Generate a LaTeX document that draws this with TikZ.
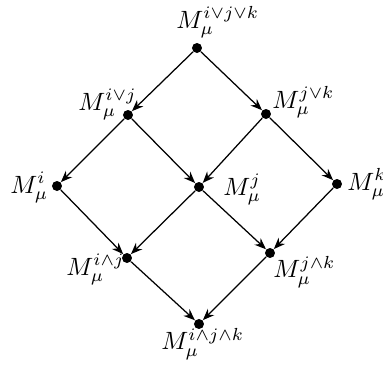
\documentclass[tikz,border=0pt]{standalone}
\usetikzlibrary{arrows.meta}
\begin{document}
\begin{tikzpicture}[x=0.4pt,y=-0.4pt,
  dot/.style={circle,fill=black,inner sep=0pt,minimum size=4pt},
  lab/.style={inner sep=0pt,anchor=base west},
  arr/.style={-{Stealth[length=4.6pt,width=3.6pt,inset=1.5pt]},line width=0.5pt}]
\useasboundingbox (0,0) rectangle (383,368);
\node[dot] (t) at (197,48) {};
\node[dot] (ij) at (128,115) {};
\node[dot] (jk) at (266,114) {};
\node[dot] (i) at (57,186) {};
\node[dot] (j) at (199,187) {};
\node[dot] (k) at (337,184) {};
\node[dot] (aij) at (127,258) {};
\node[dot] (ajk) at (270,253) {};
\node[dot] (b) at (199,324) {};
\node[lab] (lt) at (176,28) {$M_\mu^{i\vee j\vee k}$};
\node[lab] (lij) at (78,110) {$M_\mu^{i\vee j}$};
\node[lab] (ljk) at (272,108) {$M_\mu^{j\vee k}$};
\node[lab] (li) at (10,193) {$M_\mu^{i}$};
\node[lab] (lj) at (223,195) {$M_\mu^{j}$};
\node[lab] (lk) at (347,190) {$M_\mu^{k}$};
\node[lab] (laij) at (66,275) {$M_\mu^{i\wedge j}$};
\node[lab] (lajk) at (273,278) {$M_\mu^{j\wedge k}$};
\node[lab] (lb) at (161,350) {$M_\mu^{i\wedge j\wedge k}$};
\draw[arr] (t) -- (ij);
\draw[arr] (t) -- (jk);
\draw[arr] (ij) -- (i);
\draw[arr] (ij) -- (j);
\draw[arr] (jk) -- (j);
\draw[arr] (jk) -- (k);
\draw[arr] (i) -- (aij);
\draw[arr] (j) -- (aij);
\draw[arr] (j) -- (ajk);
\draw[arr] (k) -- (ajk);
\draw[arr] (aij) -- (b);
\draw[arr] (ajk) -- (b);
\end{tikzpicture}
\end{document}
